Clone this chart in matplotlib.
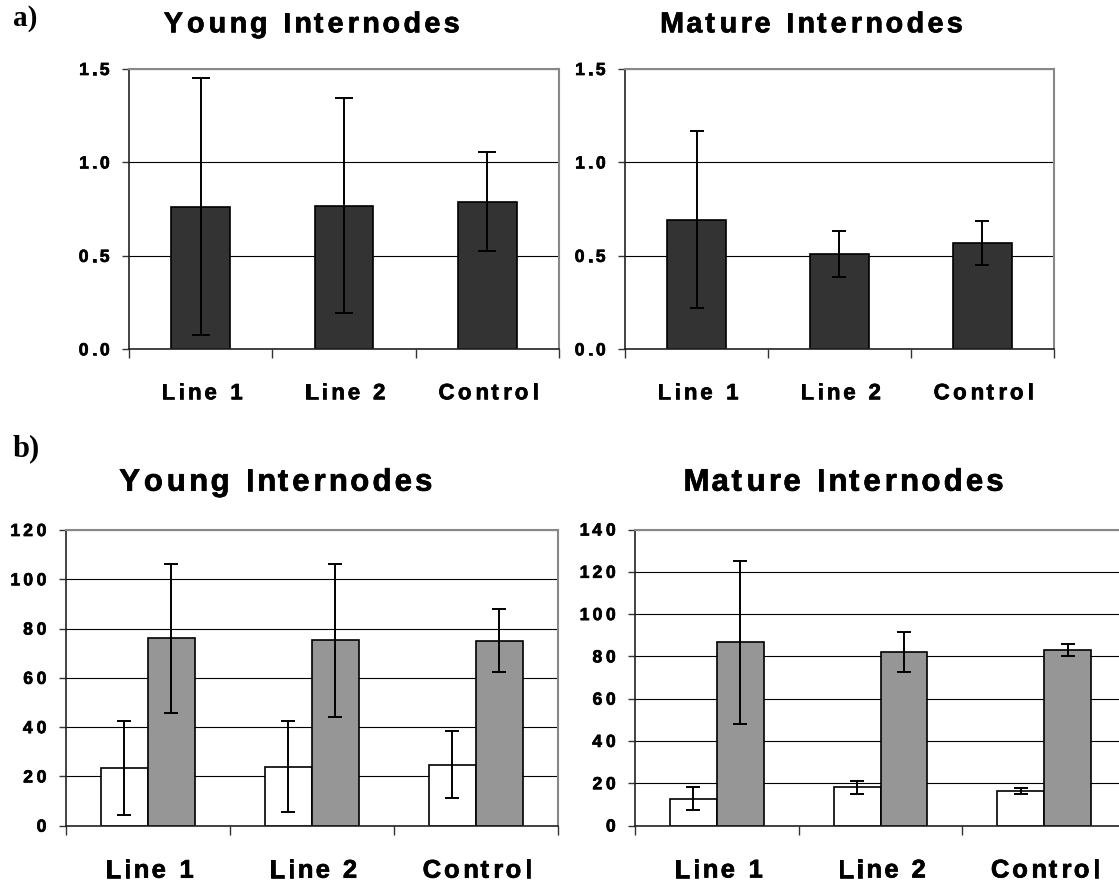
import matplotlib

matplotlib.use("Agg")
import matplotlib.pyplot as plt
import matplotlib.font_manager as fm
import matplotlib.patheffects as pe
from matplotlib.ft2font import FT2Font
from matplotlib.transforms import offset_copy
import numpy as np

try:
    from matplotlib.ft2font import LoadFlags
    NO_HINT = LoadFlags.NO_HINTING
except ImportError:
    NO_HINT = 2

W, H, DPI = 1119, 883, 100

groups = ["Line 1", "Line 2", "Control"]

# a) single series
young_a_mean = [0.762, 0.769, 0.790]
young_a_sd = [0.688, 0.577, 0.265]
mature_a_mean = [0.694, 0.510, 0.567]
mature_a_sd = [0.472, 0.122, 0.117]

# b) two series (white / grey)
young_b_white = [23.3, 24.0, 24.7]
young_b_white_sd = [19.0, 18.6, 13.6]
young_b_grey = [76.0, 75.2, 75.0]
young_b_grey_sd = [30.3, 31.0, 12.8]
mature_b_white = [12.6, 18.0, 16.3]
mature_b_white_sd = [5.4, 3.15, 1.45]
mature_b_grey = [86.6, 82.2, 83.1]
mature_b_grey_sd = [38.7, 9.55, 2.75]

yticks_a = [0.0, 0.5, 1.0, 1.5]
yticks_young_b = [0, 20, 40, 60, 80, 100, 120]
yticks_mature_b = [0, 20, 40, 60, 80, 100, 120, 140]

SANS = "Liberation Sans"
SERIF = "Liberation Serif"
HEAVY = [pe.withStroke(linewidth=0.5, foreground="black")]

fig = plt.figure(figsize=(W / DPI, H / DPI), dpi=DPI)
_fonts = {}


def glyph_metrics(s, size, family):
    key = (family, size)
    if key not in _fonts:
        path = fm.findfont(fm.FontProperties(family=family, weight="bold"))
        f = FT2Font(path)
        f.set_size(size, DPI)
        _fonts[key] = f
    f = _fonts[key]
    out = []
    for c in s:
        g = f.load_char(ord(c), flags=NO_HINT)
        out.append((g.linearHoriAdvance / 65536, g.horiBearingX / 64))
    return out


def tracked(ax, x, y, s, size, track, ha, transform, dx=0, dy=0, family=SANS):
    # text with extra letter spacing, the way the original chart looks
    met = glyph_metrics(s, size, family)
    total = sum(a for a, _ in met) + track * (len(s) - 1)
    pos = dx + {"left": 0, "center": -total / 2, "right": -total}[ha]
    for c, (adv, lsb) in zip(s, met):
        if c != " ":
            tr = offset_copy(transform, fig=fig, x=pos + lsb, y=dy, units="dots")
            ax.text(x, y, c, transform=tr, ha="left", va="baseline", fontsize=size,
                    family=family, weight="bold", clip_on=False, path_effects=HEAVY)
        pos += adv + track


def px_axes(left, top, right, bottom):
    return fig.add_axes([left / W, 1 - bottom / H, (right - left) / W, (bottom - top) / H])


def style(ax, yticks, ylab_size, ylab_track, xlab_size, xlab_track, xlab_dy, right=True):
    x = np.arange(len(groups))
    ax.set_xlim(-0.5, len(groups) - 0.5)
    ax.set_ylim(yticks[0], yticks[-1])
    ax.set_yticks(yticks)
    ax.set_xticks(np.arange(len(groups) + 1) - 0.5)
    ax.tick_params(axis="y", direction="out", length=5, width=1, color="#333333", labelleft=False)
    ax.tick_params(axis="x", direction="out", length=6.5, width=1, color="#333333", labelbottom=False)
    ax.yaxis.grid(True, color="black", lw=0.8)
    ax.set_axisbelow(True)
    for side in ["top", "right"]:
        ax.spines[side].set_color("#888888")
        ax.spines[side].set_linewidth(1.5)
    ax.spines["right"].set_visible(right)
    for side in ["left", "bottom"]:
        ax.spines[side].set_color("#222222")
        ax.spines[side].set_linewidth(1.2)
    ytr = ax.get_yaxis_transform()
    for v in yticks:
        lab = f"{v:.1f}" if isinstance(v, float) else str(v)
        tracked(ax, 0, v, lab, ylab_size, ylab_track, "right", ytr, dx=-20, dy=-6)
    xtr = ax.get_xaxis_transform()
    for xi, g in zip(x, groups):
        tracked(ax, xi, 0, g, xlab_size, xlab_track, "center", xtr, dy=xlab_dy)


def title(x_center, baseline, s, size, track):
    tracked(fig, x_center / W, 1 - baseline / H, s, size, track, "center", fig.transFigure)


x = np.arange(len(groups))

# ---- a) ----
ax1 = px_axes(129, 69, 559, 349.3)
ax1.bar(x, young_a_mean, 0.41, color="#333333", edgecolor="black", lw=1.2, zorder=2)
ax1.errorbar(x, young_a_mean, yerr=young_a_sd, fmt="none", ecolor="black", elinewidth=1.4,
             capsize=6.5, capthick=1.4, zorder=3)
style(ax1, yticks_a, 12.6, 3.3, 16, 3.4, -50)

ax2 = px_axes(625, 69, 1054, 349.3)
ax2.bar(x, mature_a_mean, 0.41, color="#333333", edgecolor="black", lw=1.2, zorder=2)
ax2.errorbar(x, mature_a_mean, yerr=mature_a_sd, fmt="none", ecolor="black", elinewidth=1.4,
             capsize=5, capthick=1.4, zorder=3)
style(ax2, yticks_a, 12.6, 3.3, 16, 3.4, -50)

# ---- b) ----
w = 0.287
ax3 = px_axes(65.7, 530, 558, 825.7)
ax3.bar(x - w / 2, young_b_white, w, color="white", edgecolor="black", lw=1.2, zorder=2)
ax3.bar(x + w / 2, young_b_grey, w, color="#969696", edgecolor="black", lw=1.2, zorder=2)
ax3.errorbar(x - w / 2, young_b_white, yerr=young_b_white_sd, fmt="none", ecolor="black",
             elinewidth=1.4, capsize=5.2, capthick=1.4, zorder=3)
ax3.errorbar(x + w / 2, young_b_grey, yerr=young_b_grey_sd, fmt="none", ecolor="black",
             elinewidth=1.4, capsize=5.2, capthick=1.4, zorder=3)
style(ax3, yticks_young_b, 12.6, 3.6, 18.4, 3.0, -52)

ax4 = px_axes(635, 529.5, 1126, 825.5)
ax4.bar(x - w / 2, mature_b_white, w, color="white", edgecolor="black", lw=1.2, zorder=2)
ax4.bar(x + w / 2, mature_b_grey, w, color="#969696", edgecolor="black", lw=1.2, zorder=2)
ax4.errorbar(x - w / 2, mature_b_white, yerr=mature_b_white_sd, fmt="none", ecolor="black",
             elinewidth=1.4, capsize=5.2, capthick=1.4, zorder=3)
ax4.errorbar(x + w / 2, mature_b_grey, yerr=mature_b_grey_sd, fmt="none", ecolor="black",
             elinewidth=1.4, capsize=5.2, capthick=1.4, zorder=3)
style(ax4, yticks_mature_b, 12.6, 3.6, 18.4, 3.0, -52, right=False)

title(311, 32.3, "Young Internodes", 20.7, 3.4)
title(810, 32.3, "Mature Internodes", 20.7, 3.4)
title(275, 490.7, "Young Internodes", 22.4, 3.2)
title(842, 490.7, "Mature Internodes", 22.4, 3.2)

fig.text(13 / W, 1 - 26 / H, "a)", fontsize=21, family=SERIF, weight="bold", va="baseline")
fig.text(13 / W, 1 - 456.7 / H, "b)", fontsize=22, family=SERIF, weight="bold", va="baseline")

fig.savefig("out.png", dpi=DPI)
